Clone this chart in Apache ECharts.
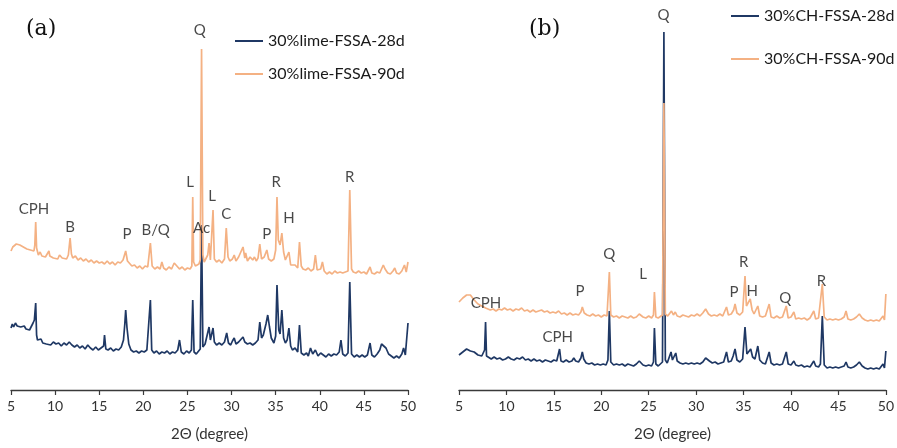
<!DOCTYPE html>
<html>
<head>
<meta charset="utf-8">
<script src="https://cdn.jsdelivr.net/npm/echarts@6/dist/echarts.min.js"></script>
<style>html,body{margin:0;padding:0;background:#fff;}#c{width:897px;height:448px;}</style>
</head>
<body>
<div id="c"></div>
<script>
// 2θ (degree) and relative intensity (a.u.)
const xTicks = [5, 10, 15, 20, 25, 30, 35, 40, 45, 50];

const lime28d = [[5.0,62],[5.15,66],[5.3,63],[5.5,67],[5.7,64],[5.9,66],[6.1,63],[6.3,62],[6.5,64],[6.7,61],[6.9,62],[7.1,60],[7.3,62],[7.5,67],[7.65,70],[7.8,87],[7.9,55],[8.0,50],[8.2,48],[8.4,51],[8.6,47],[8.8,49],[9.0,46],[9.2,48],[9.5,45],[9.8,48],[10.1,46],[10.4,47],[10.7,44],[11.0,47],[11.3,45],[11.6,48],[11.9,45],[12.2,43],[12.5,45],[12.8,42],[13.1,44],[13.4,41],[13.7,45],[14.0,42],[14.3,40],[14.6,43],[14.9,40],[15.2,42],[15.5,44],[15.6,55],[15.75,41],[16.0,40],[16.3,42],[16.6,39],[16.9,41],[17.2,40],[17.5,43],[17.75,50],[17.9,66],[18.0,80],[18.15,62],[18.35,46],[18.6,40],[18.9,38],[19.2,39],[19.5,37],[19.8,39],[20.1,38],[20.4,40],[20.6,38],[20.8,90],[20.95,40],[21.2,37],[21.5,39],[21.8,36],[22.1,38],[22.4,37],[22.7,39],[23.0,36],[23.3,38],[23.6,37],[23.9,40],[24.1,50],[24.3,38],[24.6,36],[24.9,39],[25.2,37],[25.45,40],[25.6,90],[25.75,38],[26.0,36],[26.2,38],[26.45,41],[26.6,165],[26.75,43],[27.0,46],[27.2,48],[27.45,63],[27.6,50],[27.75,49],[27.9,62],[28.05,48],[28.3,45],[28.6,47],[28.9,45],[29.2,48],[29.45,57],[29.65,47],[29.9,45],[30.1,49],[30.3,52],[30.5,46],[30.8,48],[31.0,50],[31.3,53],[31.5,48],[31.8,46],[32.1,47],[32.4,45],[32.7,47],[33.0,50],[33.2,68],[33.4,52],[33.6,55],[33.9,66],[34.1,75],[34.3,63],[34.5,52],[34.8,47],[35.0,54],[35.15,105],[35.35,60],[35.5,56],[35.7,80],[35.9,52],[36.1,47],[36.3,50],[36.5,62],[36.7,44],[36.9,40],[37.2,42],[37.5,38],[37.7,65],[37.9,37],[38.2,35],[38.5,37],[38.7,34],[38.95,42],[39.2,36],[39.5,40],[39.8,34],[40.1,37],[40.4,35],[40.7,33],[41.0,36],[41.3,34],[41.6,36],[41.9,35],[42.2,38],[42.4,50],[42.6,36],[42.9,34],[43.2,37],[43.4,108],[43.6,36],[43.9,33],[44.2,35],[44.5,33],[44.8,35],[45.1,33],[45.4,35],[45.7,47],[45.9,35],[46.2,33],[46.5,36],[46.8,40],[47.0,46],[47.2,47],[47.5,42],[47.8,36],[48.1,34],[48.4,32],[48.7,34],[49.0,32],[49.3,36],[49.5,42],[49.7,35],[49.9,33],[50.0,67]];

const lime90d = [[5.0,139],[5.2,143],[5.4,141],[5.6,146],[5.8,148],[6.0,145],[6.2,147],[6.4,143],[6.6,145],[6.8,141],[7.0,143],[7.2,140],[7.4,141],[7.6,139],[7.7,145],[7.8,168],[7.9,142],[8.1,135],[8.3,138],[8.5,134],[8.7,136],[8.9,133],[9.1,135],[9.3,139],[9.4,134],[9.6,136],[9.8,132],[10.0,134],[10.3,131],[10.5,135],[10.8,132],[11.0,134],[11.3,131],[11.5,135],[11.7,152],[11.85,136],[12.0,132],[12.3,134],[12.6,130],[12.9,132],[13.2,129],[13.5,131],[13.8,128],[14.1,130],[14.4,127],[14.7,129],[15.0,127],[15.3,128],[15.6,126],[15.9,129],[16.2,126],[16.5,128],[16.8,125],[17.1,128],[17.4,127],[17.7,130],[18.0,139],[18.2,129],[18.4,127],[18.7,124],[19.0,125],[19.3,122],[19.6,124],[19.9,121],[20.2,124],[20.5,123],[20.8,147],[21.0,124],[21.3,121],[21.6,123],[21.9,121],[22.1,128],[22.3,122],[22.6,120],[22.9,123],[23.2,121],[23.5,127],[23.8,124],[24.1,121],[24.4,123],[24.7,120],[25.0,122],[25.3,121],[25.5,124],[25.6,193],[25.7,128],[25.9,124],[26.1,123],[26.3,126],[26.45,130],[26.6,341],[26.75,135],[26.9,128],[27.1,127],[27.3,135],[27.45,147],[27.6,130],[27.75,128],[27.9,180],[28.05,131],[28.3,128],[28.6,130],[28.9,127],[29.2,131],[29.4,162],[29.6,133],[29.8,129],[30.1,131],[30.3,135],[30.5,129],[30.8,133],[31.0,131],[31.3,143],[31.5,132],[31.6,137],[31.8,129],[32.1,133],[32.4,130],[32.6,133],[32.8,129],[33.0,132],[33.2,146],[33.4,131],[33.7,133],[34.0,140],[34.2,131],[34.5,129],[34.8,131],[35.0,140],[35.15,193],[35.3,150],[35.5,145],[35.7,157],[35.9,138],[36.1,130],[36.3,128],[36.5,138],[36.7,125],[36.9,123],[37.2,125],[37.5,122],[37.7,148],[37.9,124],[38.1,121],[38.4,120],[38.7,122],[39.0,119],[39.3,121],[39.5,135],[39.7,120],[39.9,118],[40.1,121],[40.3,128],[40.5,119],[40.8,116],[41.1,118],[41.4,116],[41.7,119],[42.0,117],[42.3,118],[42.6,117],[42.9,118],[43.2,119],[43.4,200],[43.6,121],[43.8,118],[44.1,117],[44.4,119],[44.7,117],[45.0,118],[45.3,116],[45.5,118],[45.7,123],[45.9,117],[46.2,116],[46.5,118],[46.8,117],[47.0,121],[47.2,125],[47.4,121],[47.7,117],[48.0,116],[48.3,119],[48.5,122],[48.7,117],[49.0,116],[49.3,119],[49.6,125],[49.8,118],[49.95,120],[50.0,128]];

const ch28d = [[5.0,35],[5.2,37],[5.4,38],[5.6,40],[5.8,41],[6.0,41],[6.2,39],[6.4,37],[6.6,38],[6.8,36],[7.0,35],[7.2,36],[7.4,34],[7.6,36],[7.7,40],[7.8,68],[7.9,34],[8.1,32],[8.4,31],[8.7,33],[9.0,31],[9.3,32],[9.6,30],[9.9,31],[10.2,33],[10.5,31],[10.8,30],[11.1,32],[11.4,31],[11.7,33],[12.0,30],[12.3,31],[12.6,29],[12.9,31],[13.2,29],[13.5,30],[13.8,28],[14.1,30],[14.4,29],[14.7,28],[15.0,30],[15.3,29],[15.45,31],[15.6,41],[15.75,29],[16.0,28],[16.3,30],[16.6,28],[16.9,29],[17.1,32],[17.3,29],[17.6,28],[17.85,32],[18.0,38],[18.15,31],[18.4,27],[18.7,26],[19.0,27],[19.3,25],[19.6,26],[19.9,25],[20.2,26],[20.5,25],[20.7,30],[20.85,79],[21.0,28],[21.3,25],[21.6,26],[21.9,25],[22.2,26],[22.5,24],[22.8,26],[23.1,25],[23.4,24],[23.7,26],[24.0,29],[24.15,31],[24.4,25],[24.7,24],[25.0,25],[25.3,24],[25.5,28],[25.6,62],[25.75,26],[26.0,24],[26.2,25],[26.45,28],[26.6,358],[26.75,30],[26.95,27],[27.15,28],[27.35,38],[27.5,30],[27.7,31],[27.85,37],[28.0,29],[28.3,27],[28.6,26],[28.9,27],[29.2,26],[29.5,27],[29.8,26],[30.1,27],[30.4,26],[30.7,28],[31.0,32],[31.2,33],[31.4,29],[31.7,27],[32.0,28],[32.3,26],[32.6,27],[32.9,28],[33.2,38],[33.4,28],[33.7,29],[33.9,34],[34.1,41],[34.3,30],[34.6,28],[34.9,31],[35.15,63],[35.35,36],[35.5,37],[35.75,41],[35.95,33],[36.2,31],[36.5,44],[36.7,30],[37.0,27],[37.3,26],[37.5,28],[37.7,38],[37.9,27],[38.2,25],[38.5,26],[38.8,25],[39.1,26],[39.3,28],[39.5,38],[39.7,26],[40.0,25],[40.3,29],[40.5,25],[40.8,24],[41.1,25],[41.4,23],[41.7,24],[42.0,23],[42.2,25],[42.4,29],[42.6,24],[42.9,23],[43.1,26],[43.3,74],[43.5,25],[43.8,22],[44.1,23],[44.4,22],[44.7,23],[45.0,22],[45.3,23],[45.6,24],[45.8,28],[46.0,23],[46.3,22],[46.6,23],[46.9,25],[47.2,28],[47.5,24],[47.8,22],[48.1,21],[48.4,22],[48.7,21],[49.0,22],[49.3,21],[49.5,23],[49.7,26],[49.85,22],[49.95,24],[50.0,39]];

const ch90d = [[5.0,88],[5.2,90],[5.4,92],[5.6,93],[5.8,95],[6.0,96],[6.2,95],[6.4,93],[6.6,90],[6.8,88],[7.0,86],[7.2,87],[7.4,84],[7.6,85],[7.8,82],[8.0,83],[8.3,80],[8.6,81],[8.9,79],[9.2,81],[9.5,80],[9.8,82],[10.1,80],[10.4,81],[10.7,79],[11.0,81],[11.3,80],[11.6,82],[11.9,79],[12.2,80],[12.5,78],[12.8,80],[13.1,78],[13.4,79],[13.7,80],[14.0,78],[14.3,79],[14.6,77],[14.9,78],[15.2,77],[15.5,79],[15.8,76],[16.1,77],[16.4,75],[16.7,77],[17.0,75],[17.3,76],[17.6,75],[17.85,78],[18.0,83],[18.2,77],[18.5,75],[18.8,74],[19.1,76],[19.4,74],[19.7,75],[20.0,73],[20.3,75],[20.6,74],[20.85,118],[21.0,75],[21.3,73],[21.6,74],[21.9,72],[22.2,74],[22.5,73],[22.8,72],[23.1,74],[23.4,72],[23.7,73],[24.0,76],[24.15,78],[24.4,73],[24.7,72],[25.0,74],[25.3,72],[25.5,75],[25.6,98],[25.75,73],[26.0,72],[26.2,73],[26.45,75],[26.6,287],[26.75,76],[27.0,74],[27.2,75],[27.4,79],[27.6,75],[27.8,78],[28.0,74],[28.3,73],[28.6,75],[28.9,74],[29.2,73],[29.5,75],[29.8,74],[30.1,76],[30.4,74],[30.7,77],[31.0,81],[31.3,76],[31.6,74],[31.9,75],[32.2,74],[32.5,76],[32.8,74],[33.0,76],[33.2,83],[33.4,75],[33.7,76],[33.95,80],[34.1,86],[34.3,77],[34.6,75],[34.9,78],[35.15,114],[35.3,84],[35.5,82],[35.7,91],[35.9,80],[36.1,76],[36.3,77],[36.5,84],[36.7,74],[37.0,73],[37.3,74],[37.5,73],[37.7,86],[37.9,73],[38.2,72],[38.5,74],[38.8,72],[39.1,73],[39.3,74],[39.5,84],[39.7,72],[40.0,73],[40.3,78],[40.5,71],[40.8,72],[41.1,71],[41.4,72],[41.7,70],[42.0,72],[42.2,73],[42.4,79],[42.6,71],[42.9,72],[43.1,74],[43.3,106],[43.5,73],[43.8,70],[44.1,71],[44.4,70],[44.7,71],[45.0,70],[45.3,71],[45.6,73],[45.8,79],[46.0,71],[46.3,70],[46.6,71],[46.9,73],[47.2,76],[47.5,72],[47.8,70],[48.1,69],[48.4,70],[48.7,69],[49.0,70],[49.3,69],[49.5,71],[49.7,74],[49.85,70],[49.95,72],[50.0,96]];

// phase labels: [2θ, intensity level of the label, text]
const phaseLabelsA = [[26.4,360,'Q'],[25.3,208,'L'],[27.8,194,'L'],[35.05,208,'R'],[43.4,213,'R'],[7.6,181,'CPH'],[29.4,176,'C'],[36.5,172,'H'],[11.7,163,'B'],[18.15,156,'P'],[21.4,160,'B/Q'],[26.6,162,'Ac'],[34.0,156,'P']];
const phaseLabelsB = [[26.55,375,'Q'],[7.85,87,'CPH'],[17.75,99,'P'],[20.85,136,'Q'],[24.4,116,'L'],[15.4,53,'CPH'],[34.0,98,'P'],[35.0,128,'R'],[35.9,99,'H'],[39.4,92,'Q'],[43.2,109,'R']];

const seriesNamesA = ['30%lime-FSSA-28d', '30%lime-FSSA-90d'];
const seriesNamesB = ['30%CH-FSSA-28d', '30%CH-FSSA-90d'];

const NAVY = '#1f3864';
const ORANGE = '#f4b183';
const FONT = 'Lato';
const TXT = '#1a1a1a';

const chart = echarts.init(document.getElementById('c'), null, {renderer: 'canvas'});

function xAxis(gi) {
  return {
    gridIndex: gi, type: 'value', min: 5, max: 50, interval: 5,
    axisLine: {show: true, lineStyle: {color: '#3a3a3a', width: 1.3}},
    axisTick: {show: true, length: 5, lineStyle: {color: '#3a3a3a', width: 1.2}},
    axisLabel: {color: '#333', fontSize: 14, fontFamily: FONT, margin: 9,
      formatter: v => xTicks.indexOf(v) >= 0 ? String(v) : ''},
    splitLine: {show: false},
    name: '2\u0398 (degree)', nameLocation: 'middle', nameGap: 37,
    nameTextStyle: {color: '#333', fontSize: 15, fontFamily: FONT}
  };
}
function yAxis(gi) {
  return {gridIndex: gi, type: 'value', min: 0, max: 370, show: false};
}
function line(name, data, color, gi) {
  return {name, type: 'line', data, xAxisIndex: gi, yAxisIndex: gi, showSymbol: false,
    symbol: 'none', lineStyle: {color, width: 1.7}, itemStyle: {color}, animation: false, clip: false};
}
function labels(data, gi) {
  return {type: 'scatter', data, xAxisIndex: gi, yAxisIndex: gi, symbolSize: 0, silent: true,
    clip: false, animation: false, z: 5,
    label: {show: true, position: 'inside', formatter: p => p.data[2], color: TXT,
      fontSize: 15, fontFamily: FONT}};
}
function legend(name, left, top) {
  return {data: [name], left, top, padding: 0, icon: 'rect', itemWidth: 28, itemHeight: 2,
    textStyle: {color: TXT, fontSize: 16, fontFamily: FONT, lineHeight: 18}, selectedMode: false};
}

chart.setOption({
  backgroundColor: '#fff',
  animation: false,
  title: [
    {text: '(a)', left: 21, top: 13, textStyle: {fontFamily: 'DejaVu Serif', fontWeight: 'normal', fontSize: 22, color: '#111'}},
    {text: '(b)', left: 524, top: 13, textStyle: {fontFamily: 'DejaVu Serif', fontWeight: 'normal', fontSize: 22, color: '#111'}}
  ],
  legend: [
    legend(seriesNamesA[0], 235, 32),
    legend(seriesNamesA[1], 235, 65),
    legend(seriesNamesB[0], 731, 7),
    legend(seriesNamesB[1], 731, 50)
  ],
  grid: [
    {left: 11, right: 489, top: 20, bottom: 58},
    {left: 459, right: 9, top: 20, bottom: 58}
  ],
  xAxis: [xAxis(0), xAxis(1)],
  yAxis: [yAxis(0), yAxis(1)],
  series: [
    line(seriesNamesA[0], lime28d, NAVY, 0),
    line(seriesNamesA[1], lime90d, ORANGE, 0),
    line(seriesNamesB[0], ch28d, NAVY, 1),
    line(seriesNamesB[1], ch90d, ORANGE, 1),
    labels(phaseLabelsA, 0),
    labels(phaseLabelsB, 1)
  ]
});
</script>
</body>
</html>
